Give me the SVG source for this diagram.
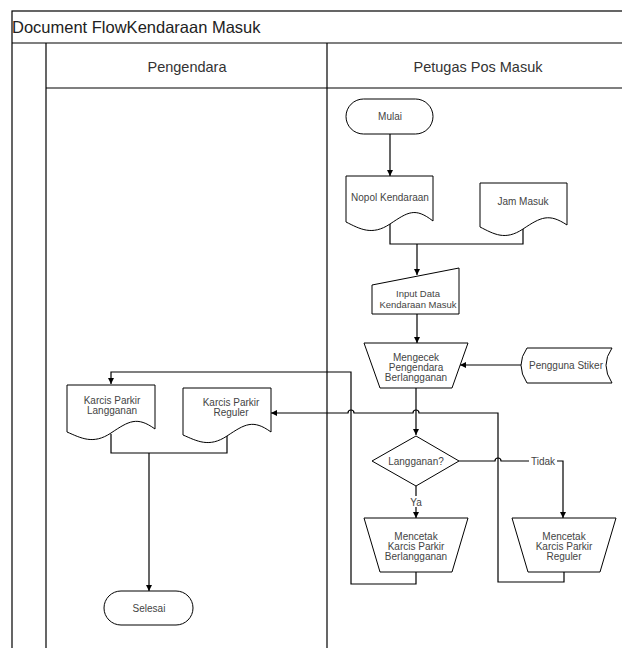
<svg xmlns="http://www.w3.org/2000/svg" width="622" height="648" viewBox="0 0 622 648">
  <defs>
    <marker id="arrow" viewBox="0 0 10 10" refX="10" refY="5" markerWidth="6" markerHeight="6" orient="auto" markerUnits="userSpaceOnUse">
      <path d="M0,0 L10,5 L0,10 Z" fill="#000"/>
    </marker>
  </defs>
  <style>
    .frame { fill: none; stroke: #000; stroke-width: 1.2; }
    .shape { fill: #fff; stroke: #000; stroke-width: 1; }
    .conn { fill: none; stroke: #000; stroke-width: 1.2; }
    .arr { marker-end: url(#arrow); }
    .title { font-family: "Liberation Sans", Arial, sans-serif; font-size: 16.5px; fill: #222; }
    .lane { font-family: "Liberation Sans", Arial, sans-serif; font-size: 14.5px; fill: #333; text-anchor: middle; }
    .lbl { font-family: "Liberation Sans", Arial, sans-serif; font-size: 10px; fill: #444; text-anchor: middle; }
    .sm { font-size: 9.5px; }
  </style>
  <rect width="622" height="648" fill="#fff"/>

  <!-- pool frame, title bar and lanes -->
  <g id="pool">
    <rect class="frame" x="12" y="11" width="640" height="660"/>
    <line class="frame" x1="12" y1="43" x2="622" y2="43"/>
    <line class="frame" x1="46" y1="43" x2="46" y2="648"/>
    <line class="frame" x1="46" y1="88" x2="622" y2="88"/>
    <line class="frame" x1="327" y1="43" x2="327" y2="648"/>
    <text class="title" x="12" y="33">Document FlowKendaraan Masuk</text>
    <text class="lane" x="187" y="72">Pengendara</text>
    <text class="lane" x="478" y="72">Petugas Pos Masuk</text>
  </g>

  <!-- connectors -->
  <g id="connectors">
    <path class="conn arr" d="M390,134 V176"/>
    <path class="conn" d="M390,224 V244 H523 V229"/>
    <path class="conn arr" d="M417,244 V275"/>
    <path class="conn arr" d="M417,314 V343"/>
    <path class="conn arr" d="M521,365 H460"/>
    <!-- Mengecek down to decision -->
    <path class="conn arr" d="M416,388 V435"/>
    <!-- Ya branch -->
    <path class="conn arr" d="M416,486 V518"/>
    <!-- Tidak branch, hop over x=498 -->
    <path class="conn arr" d="M459,461 H495 A3,3 0 0 1 501,461 H563 V518"/>
    <!-- return from Mencetak Berlangganan to Karcis Parkir Langganan -->
    <path class="conn arr" d="M416,572 V584 H351 V372 H111 V384"/>
    <!-- return from Mencetak Reguler to Karcis Parkir Reguler, hops at x=416 and x=351 -->
    <path class="conn arr" d="M564,572 V582 H498 V413 H419 A3,3 0 0 0 413,413 H354 A3,3 0 0 0 348,413 H271"/>
    <!-- documents merge to Selesai -->
    <path class="conn" d="M111,434 V453 H227 V436"/>
    <path class="conn arr" d="M149,453 V591"/>
  </g>

  <g id="mulai">
    <rect class="shape" x="346" y="99" width="87" height="35" rx="17.5"/>
    <text class="lbl" x="390" y="120">Mulai</text>
  </g>

  <g id="nopol-kendaraan">
    <path class="shape" d="M346,176 H433 V221 C415,207 408,212 390,224 C372,236 360,229 346,222 Z"/>
    <text class="lbl" x="390" y="201">Nopol Kendaraan</text>
  </g>

  <g id="jam-masuk">
    <path class="shape" d="M480,183 H567 V225 C549,213 541,217 523,229 C505,241 494,234 480,227 Z"/>
    <text class="lbl" x="523" y="205">Jam Masuk</text>
  </g>

  <g id="input-data">
    <path class="shape" d="M372,285 L459,268 V314 H372 Z"/>
    <text class="lbl sm" x="418" y="297">Input Data</text>
    <text class="lbl sm" x="418" y="307.5">Kendaraan Masuk</text>
  </g>

  <g id="mengecek">
    <path class="shape" d="M364,343 H468 L452,388 H380 Z"/>
    <text class="lbl" x="416" y="360.5">Mengecek</text>
    <text class="lbl" x="416" y="370.5">Pengendara</text>
    <text class="lbl" x="416" y="380.5">Berlangganan</text>
  </g>

  <g id="pengguna-stiker">
    <path class="shape" d="M527,348 H612 Q600,365 612,383 H527 Q515,365 527,348 Z"/>
    <text class="lbl" x="566" y="368.5">Pengguna Stiker</text>
  </g>

  <g id="langganan">
    <path class="shape" d="M416,436 L459,461 L416,486 L372,461 Z"/>
    <text class="lbl" x="416" y="464.5">Langganan?</text>
  </g>

  <g id="label-ya">
    <rect x="409" y="496" width="14" height="11" fill="#fff"/>
    <text class="lbl" x="416" y="505.5">Ya</text>
  </g>

  <g id="label-tidak">
    <rect x="529" y="456" width="28" height="11" fill="#fff"/>
    <text class="lbl" x="543" y="464.5">Tidak</text>
  </g>

  <g id="mencetak-berlangganan">
    <path class="shape" d="M364,518 H468 L452,572 H380 Z"/>
    <text class="lbl" x="416" y="539.5">Mencetak</text>
    <text class="lbl" x="416" y="549.5">Karcis Parkir</text>
    <text class="lbl" x="416" y="559.5">Berlangganan</text>
  </g>

  <g id="mencetak-reguler">
    <path class="shape" d="M512,518 H616 L600,572 H528 Z"/>
    <text class="lbl" x="564" y="539.5">Mencetak</text>
    <text class="lbl" x="564" y="549.5">Karcis Parkir</text>
    <text class="lbl" x="564" y="559.5">Reguler</text>
  </g>

  <g id="karcis-langganan">
    <path class="shape" d="M67,385 H155 V429 C137,416 129,421 111,433 C93,445 81,438 67,432 Z"/>
    <text class="lbl" x="112" y="403.5">Karcis Parkir</text>
    <text class="lbl" x="112" y="413.5">Langganan</text>
  </g>

  <g id="karcis-reguler">
    <path class="shape" d="M183,388 H271 V432 C253,419 245,424 227,436 C209,448 197,441 183,435 Z"/>
    <text class="lbl" x="231" y="405.5">Karcis Parkir</text>
    <text class="lbl" x="231" y="416">Reguler</text>
  </g>

  <g id="selesai">
    <rect class="shape" x="104" y="591" width="89" height="34" rx="17"/>
    <text class="lbl" x="149" y="611.5">Selesai</text>
  </g>
</svg>
